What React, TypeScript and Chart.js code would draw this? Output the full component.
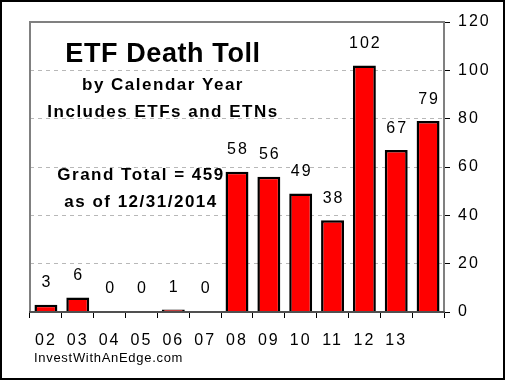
import React, { useEffect, useRef } from "react";
import { Chart, registerables } from "chart.js";

Chart.register(...registerables);

const years = ["02", "03", "04", "05", "06", "07", "08", "09", "10", "11", "12", "13", ""];
const closures = [3, 6, 0, 0, 1, 0, 58, 56, 49, 38, 102, 67, 79];
const yTicks = [0, 20, 40, 60, 80, 100, 120];
const titleLines = ["ETF Death Toll", "by Calendar Year", "Includes ETFs and ETNs"];
const totalLines = ["Grand Total = 459", "as of 12/31/2014"];
const sourceText = "InvestWithAnEdge.com";

const FONT = "'Liberation Sans', Arial, sans-serif";

const decorPlugin = {
  id: "decor",
  beforeDraw(chart: any) {
    const ctx = chart.ctx;
    ctx.save();
    ctx.fillStyle = "#ffffff";
    ctx.fillRect(0, 0, chart.width, chart.height);
    ctx.restore();
    (ctx as any).letterSpacing = "2px";
  },
  afterDatasetsDraw(chart: any) {
    const ctx = chart.ctx;
    const a = chart.chartArea;
    ctx.save();
    ctx.strokeStyle = "#808080";
    ctx.lineWidth = 2;
    ctx.beginPath();
    ctx.moveTo(a.left, a.bottom);
    ctx.lineTo(a.left, a.top);
    ctx.lineTo(a.right, a.top);
    ctx.stroke();
    ctx.restore();
  },
  afterDraw(chart: any) {
    const ctx = chart.ctx;
    ctx.save();
    ctx.fillStyle = "#000";
    ctx.textBaseline = "alphabetic";
    // data labels
    const meta = chart.getDatasetMeta(0);
    ctx.font = `16px ${FONT}`;
    (ctx as any).letterSpacing = "2px";
    ctx.textAlign = "center";
    meta.data.forEach((el: any, i: number) => {
      const v = closures[i];
      const off = v === 0 ? 19 : 17.5;
      ctx.fillText(String(v), el.x + 1, el.y - off);
    });
    // title block
    (ctx as any).letterSpacing = "0.6px";
    ctx.font = `bold 27px ${FONT}`;
    ctx.fillText(titleLines[0], 163, 62);
    (ctx as any).letterSpacing = "1.5px";
    ctx.font = `bold 17px ${FONT}`;
    ctx.fillText(titleLines[1], 163, 90);
    ctx.fillText(titleLines[2], 163, 117);
    ctx.fillText(totalLines[0], 141, 180);
    ctx.fillText(totalLines[1], 141, 207);
    // source
    (ctx as any).letterSpacing = "0.7px";
    ctx.font = `13px ${FONT}`;
    ctx.textAlign = "left";
    ctx.fillText(sourceText, 34, 362);
    // outer border
    (ctx as any).letterSpacing = "0px";
    ctx.strokeStyle = "#000";
    ctx.lineWidth = 2;
    ctx.strokeRect(1, 1, chart.width - 2, chart.height - 2);
    ctx.restore();
    (ctx as any).letterSpacing = "0px";
  },
};

export default function App() {
  const ref = useRef<HTMLCanvasElement | null>(null);
  useEffect(() => {
    if (!ref.current) return;
    const chart = new Chart(ref.current, {
      type: "bar",
      data: {
        labels: years,
        datasets: [
          {
            data: closures,
            backgroundColor: "#ff0000",
            borderColor: "#000000",
            borderWidth: 2.5,
            barPercentage: 0.72,
            categoryPercentage: 1,
          },
        ],
      },
      options: {
        animation: false,
        responsive: false,
        devicePixelRatio: 1,
        layout: { padding: { left: 30, top: 22, right: 0, bottom: 0 } },
        plugins: {
          legend: { display: false },
          tooltip: { enabled: false },
          title: { display: false },
        },
        scales: {
          x: {
            type: "category",
            offset: true,
            grid: {
              offset: true,
              drawOnChartArea: false,
              drawTicks: true,
              tickLength: 6,
              tickColor: "#000",
              tickWidth: 1,
            },
            border: { display: true, color: "#505050", width: 2, z: 1 },
            ticks: {
              font: { family: FONT, size: 16 },
              color: "#000",
              padding: 13,
              maxRotation: 0,
              autoSkip: false,
            },
            afterFit: (s: any) => {
              s.height = 68;
            },
          },
          y: {
            position: "right",
            min: yTicks[0],
            max: yTicks[yTicks.length - 1],
            afterBuildTicks: (s: any) => {
              s.ticks = yTicks.map((v) => ({ value: v }));
            },
            grid: {
              color: "#b8b8b8",
              lineWidth: 1,
              drawTicks: true,
              tickLength: 6,
              tickColor: "#000",
              tickWidth: 1,
            },
            border: { display: true, color: "#808080", width: 2, dash: [4, 4] },
            ticks: {
              font: { family: FONT, size: 16 },
              color: "#000",
              padding: 8,
            },
            afterFit: (s: any) => {
              s.width = 61;
            },
          },
        },
      },
      plugins: [decorPlugin],
    });
    return () => chart.destroy();
  }, []);
  return (
    <div style={{ position: "absolute", left: 0, top: 0, width: 505, height: 380 }}>
      <canvas ref={ref} width={505} height={380} style={{ width: 505, height: 380, display: "block" }} />
    </div>
  );
}
